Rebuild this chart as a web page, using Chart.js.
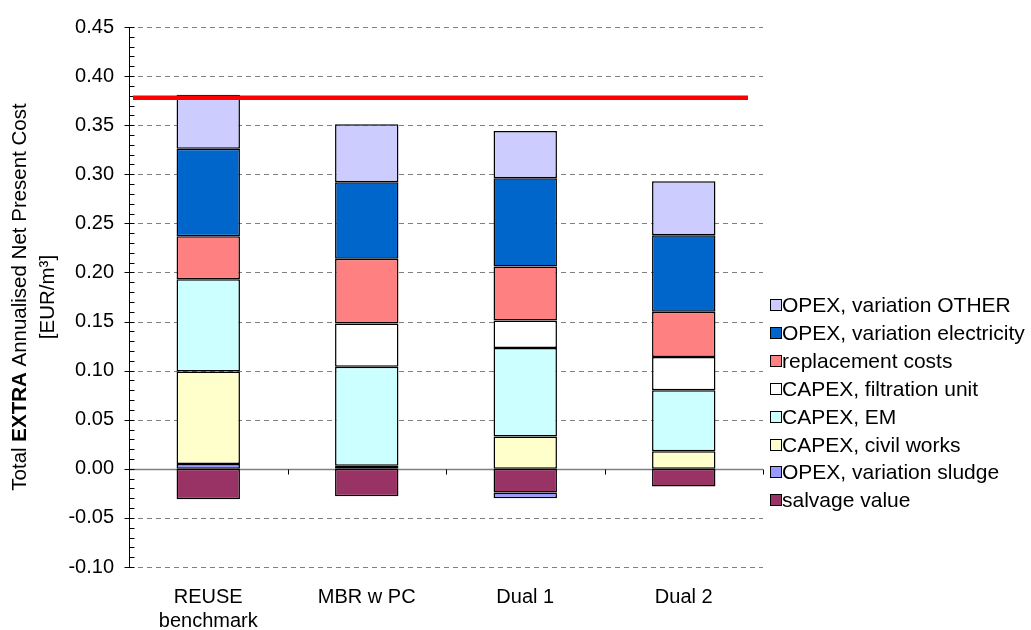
<!DOCTYPE html>
<html>
<head>
<meta charset="utf-8">
<script src="https://cdn.jsdelivr.net/npm/chart.js@4.4.1/dist/chart.umd.min.js"></script>
<style>
  html, body { margin: 0; padding: 0; background: #fff; }
  canvas { display: block; }
</style>
</head>
<body>
<canvas id="costChart" width="1031" height="630"></canvas>
<script>
// categories and stacked series (EUR/m3)
const categories = [['REUSE', 'benchmark'], 'MBR w PC', 'Dual 1', 'Dual 2'];
const salvageValue = [-0.031, -0.028, -0.024, -0.018];
const opexSludge = [0.005, 0.003, -0.006, null];
const capexCivil = [0.094, null, 0.033, 0.018];
const capexEM = [0.094, 0.101, 0.090, 0.062];
const capexFiltration = [null, 0.044, 0.028, 0.034];
const replacementCosts = [0.044, 0.066, 0.055, 0.046];
const opexElectricity = [0.089, 0.078, 0.090, 0.078];
const opexOther = [0.055, 0.059, 0.048, 0.055];
const benchmarkLine = 0.378;
const yTicks = [-0.10, -0.05, 0.00, 0.05, 0.10, 0.15, 0.20, 0.25, 0.30, 0.35, 0.40, 0.45];

const FONT = "'Liberation Sans', Arial, sans-serif";

// gridlines, axis line, tick marks
const axesPlugin = {
  id: 'axes',
  beforeDatasetsDraw(chart) {
    const { ctx, chartArea: a, scales: { x, y } } = chart;
    ctx.save();
    ctx.strokeStyle = '#808080';
    ctx.lineWidth = 1;
    ctx.setLineDash([5, 4]);
    yTicks.forEach(v => {
      if (v === 0) return;
      const py = Math.round(y.getPixelForValue(v)) + 0.5;
      ctx.beginPath();
      ctx.moveTo(a.left, py);
      ctx.lineTo(a.right, py);
      ctx.stroke();
    });
    ctx.setLineDash([]);
    // zero line
    const y0 = Math.round(y.getPixelForValue(0)) + 0.5;
    ctx.lineWidth = 1.5;
    ctx.beginPath();
    ctx.moveTo(a.left, y0);
    ctx.lineTo(a.right, y0);
    ctx.stroke();
    // category tick marks
    ctx.strokeStyle = '#000';
    ctx.lineWidth = 1;
    for (let i = 1; i <= categories.length; i++) {
      const px = Math.round(a.left + (a.right - a.left) * i / categories.length) + 0.5;
      ctx.beginPath();
      ctx.moveTo(px, y0);
      ctx.lineTo(px, y0 + 5);
      ctx.stroke();
    }
    // y axis
    const ax = Math.round(a.left) + 0.5;
    ctx.beginPath();
    ctx.moveTo(ax, a.top);
    ctx.lineTo(ax, a.bottom);
    ctx.stroke();
    for (let v = -100; v <= 450; v += 10) {
      const py = Math.round(y.getPixelForValue(v / 1000)) + 0.5;
      const major = v % 50 === 0;
      ctx.beginPath();
      ctx.moveTo(ax - (major ? 5 : 0), py);
      ctx.lineTo(ax + 5, py);
      ctx.stroke();
    }
    ctx.restore();
  },
  afterDatasetsDraw(chart) {
    const { ctx, chartArea: a, scales: { y } } = chart;
    ctx.save();
    // benchmark line
    const py = y.getPixelForValue(benchmarkLine);
    ctx.strokeStyle = '#ff0000';
    ctx.lineWidth = 4.5;
    ctx.beginPath();
    ctx.moveTo(a.left + 4, py);
    ctx.lineTo(a.right - 15, py);
    ctx.stroke();

    // legend (reverse of stacking order)
    const ds = chart.data.datasets.slice().reverse();
    ctx.font = '21px ' + FONT;
    ctx.textBaseline = 'middle';
    ctx.textAlign = 'left';
    ds.forEach((d, i) => {
      const cy = Math.round(305 + i * 27.9);
      ctx.fillStyle = d.backgroundColor;
      ctx.fillRect(770.5, cy - 5.5, 11, 11);
      ctx.strokeStyle = '#000';
      ctx.lineWidth = 1;
      ctx.strokeRect(770.5, cy - 5.5, 11, 11);
      ctx.fillStyle = '#000';
      ctx.fillText(d.label, 782, cy + 1);
    });

    // y title with bold word
    const parts = [['Total ', 'normal'], ['EXTRA', 'bold'], [' Annualised Net Present Cost', 'normal']];
    const cy = (a.top + a.bottom) / 2;
    ctx.translate(20, cy);
    ctx.rotate(-Math.PI / 2);
    let total = 0;
    parts.forEach(p => { ctx.font = p[1] + ' 20.5px ' + FONT; total += ctx.measureText(p[0]).width; });
    let x0 = -total / 2;
    parts.forEach(p => {
      ctx.font = p[1] + ' 20.5px ' + FONT;
      ctx.fillText(p[0], x0, 0);
      x0 += ctx.measureText(p[0]).width;
    });
    ctx.font = '20.5px ' + FONT;
    ctx.textAlign = 'center';
    ctx.fillText('[EUR/m³]', 0, 28);
    ctx.restore();
  }
};

const series = [
  ['salvage value', salvageValue, '#993366'],
  ['OPEX, variation sludge', opexSludge, '#9999ff'],
  ['CAPEX, civil works', capexCivil, '#ffffcc'],
  ['CAPEX, EM', capexEM, '#ccffff'],
  ['CAPEX, filtration unit', capexFiltration, '#ffffff'],
  ['replacement costs', replacementCosts, '#ff8080'],
  ['OPEX, variation electricity', opexElectricity, '#0066cc'],
  ['OPEX, variation OTHER', opexOther, '#ccccff'],
];

new Chart(document.getElementById('costChart'), {
  type: 'bar',
  data: {
    labels: categories,
    datasets: series.map(s => ({
      label: s[0],
      data: s[1],
      backgroundColor: s[2],
      borderColor: '#000',
      borderWidth: 1.5,
      borderSkipped: false,
      barPercentage: 0.4,
      categoryPercentage: 1.0
    }))
  },
  options: {
    responsive: false,
    animation: false,
    layout: { padding: { top: 23, right: 268, left: 0, bottom: 0 } },
    plugins: { legend: { display: false }, tooltip: { enabled: false } },
    scales: {
      x: {
        stacked: true,
        grid: { display: false, drawTicks: false },
        border: { display: false },
        ticks: { color: '#000', font: { family: FONT, size: 20 }, padding: 18 },
        afterFit: s => { s.height = 63; }
      },
      y: {
        stacked: true,
        min: -0.10,
        max: 0.45,
        grid: { display: false, drawTicks: false },
        border: { display: false },
        ticks: {
          stepSize: 0.05,
          color: '#000',
          font: { family: FONT, size: 20 },
          padding: 15,
          callback: v => v.toFixed(2)
        },
        afterFit: s => { s.width = 129; }
      }
    }
  },
  plugins: [axesPlugin]
});
</script>
</body>
</html>
